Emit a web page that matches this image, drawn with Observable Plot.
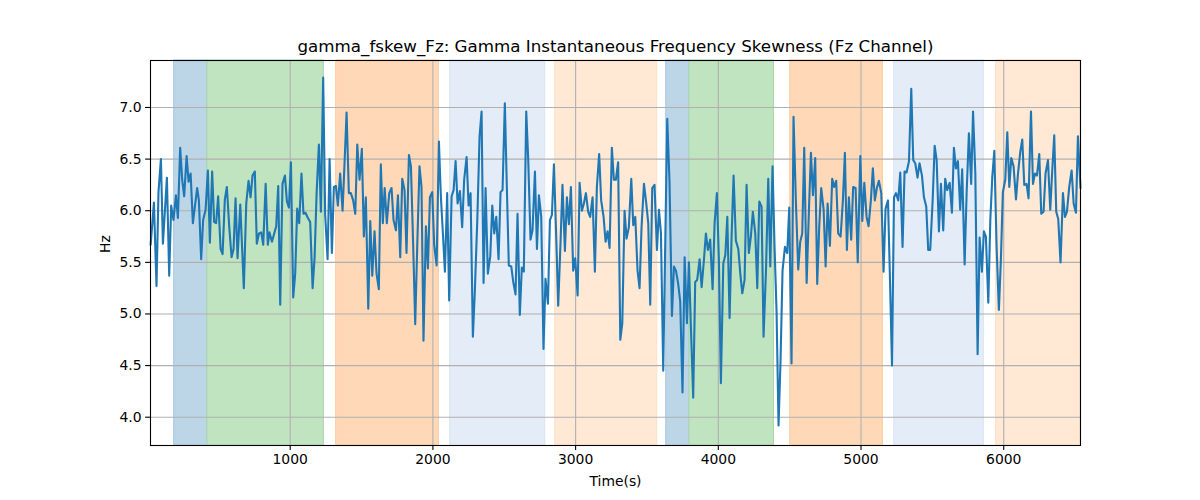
<!DOCTYPE html>
<html><head><meta charset="utf-8">
<script src="https://cdn.jsdelivr.net/npm/d3@7"></script>
<script src="https://cdn.jsdelivr.net/npm/@observablehq/plot@0.6"></script>
<style>body{margin:0;background:#fff;}</style>
</head><body><div id="chart"></div>
<script>
const chartTitle = "gamma_fskew_Fz: Gamma Instantaneous Frequency Skewness (Fz Channel)";
const xLabel = "Time(s)";
const yLabel = "Hz";

const times = [22,45,63,77,94,108,136,152,166,182,199,213,229,243,257,274,288,302,318,332,348,360,376,390,407,423,437,453,467,481,495,512,526,542,556,573,589,603,617,631,650,675,692,708,722,736,752,766,781,797,811,828,
843,855,872,888,902,916,930,946,963,977,991,1005,1021,1035,1049,1063,1079,1093,1107,1124,1140,1157,1171,1185,1201,1215,1231,1245,1262,1276,1292,1306,1320,1334,1350,1367,1381,1395,1411,1425,1441,1456,1470,1486,1502,1516,1530,1547,1561,1575,1591,1605,1621,1635,1649,1662,
1677,1694,1710,1724,1741,1755,1771,1785,1801,1815,1832,1846,1862,1876,1890,1906,1920,1934,1951,1965,1979,1995,2009,2026,2042,2056,2070,2084,2100,2114,2131,2145,2159,2173,2189,2205,2219,2236,2250,2264,2280,2294,2311,2327,2341,2355,2369,2385,2402,2416,2430,2444,2460,2474,2488,
2504,2518,2532,2549,2563,2579,2593,2609,2623,2637,2654,2668,2684,2698,2715,2729,2743,2759,2775,2789,2806,2820,2834,2848,2864,2878,2894,2908,2925,2939,2953,2967,2983,2997,3014,3028,3044,3058,3072,3088,3102,3119,3135,3149,3165,3179,3196,3210,3224,3238,3254,3268,3282,3298,3313,
3327,3343,3357,3373,3390,3404,3418,3434,3448,3462,3479,3495,3509,3523,3537,3553,3570,3584,3598,3614,3628,3642,3658,3675,3689,3703,3719,3733,3749,3764,3780,3794,3808,3824,3838,3852,3869,3883,3899,3913,3927,3943,3960,3974,3990,4004,4018,4035,4049,4063,4079,4093,4107,4123,4140,4154,
4168,4184,4198,4214,4228,4242,4259,4273,4287,4303,4317,4334,4350,4364,4380,4394,4408,4422,4436,4450,4467,4483,4497,4513,4527,4544,4560,4574,4588,4602,4619,4635,4649,4663,4679,4693,4707,4721,4738,4752,4766,4782,4798,4812,4826,4840,4857,4873,4887,4901,4915,4931,4945,4962,4977,
4995,5009,5023,5039,5053,5069,5083,5097,5111,5125,5142,5158,5172,5189,5203,5217,5231,5245,5261,5275,5291,5305,5319,5336,5352,5366,5380,5396,5410,5427,5441,5457,5471,5485,5502,5516,5530,5546,5560,5576,5590,5604,5621,5637,5651,5665,5679,5695,5709,5726,5740,5756,5772,5785,
5801,5817,5831,5847,5861,5875,5892,5906,5920,5934,5950,5966,5980,5994,6011,6025,6039,6053,6069,6086,6100,6116,6130,6144,6160,6174,6191,6205,6219,6233,6249,6263,6279,6293,6310,6326,6340,6354,6368,6382,6398,6415,6429,6443,6459,6476,6490,6506,6520,6538];

const values = [5.67,6.08,5.27,6.18,6.50,5.68,6.32,5.37,6.05,5.91,6.15,5.93,6.61,6.30,6.14,6.53,6.28,6.36,5.88,6.04,6.22,6.10,5.53,5.91,6.01,6.39,5.69,6.38,5.89,5.88,6.14,5.63,5.58,6.11,6.23,5.84,5.55,5.63,6.12,5.54,6.06,5.25,6.07,6.29,6.13,6.34,6.38,5.68,5.78,5.79,5.67,6.26,
5.67,5.79,5.70,5.78,5.85,6.24,5.09,6.26,6.34,6.09,6.03,6.47,5.16,5.39,6.02,5.88,6.36,5.97,5.98,5.93,5.89,5.25,5.55,6.17,6.64,5.99,7.29,5.96,5.53,6.50,5.59,6.23,6.24,6.05,6.36,6.00,6.47,6.95,6.17,6.17,6.10,5.97,6.64,6.30,6.60,5.75,6.13,5.05,5.90,5.37,5.80,5.39,5.24,6.45,5.88,6.22,
5.88,6.17,6.22,5.91,5.81,6.15,5.55,6.31,6.20,5.59,6.54,6.43,5.65,4.90,5.65,6.43,6.23,4.74,5.85,5.44,6.13,6.18,5.67,5.47,6.67,6.13,5.78,5.41,6.17,5.13,6.14,6.20,6.48,6.07,6.19,5.84,6.30,6.52,6.05,6.17,4.78,5.23,5.91,6.72,6.96,5.30,6.22,5.39,5.56,6.05,5.78,5.94,5.53,6.18,6.20,
7.04,6.23,5.47,5.46,5.31,5.19,5.97,4.99,5.45,5.41,6.96,6.49,5.72,5.81,6.38,5.63,6.15,5.94,4.66,5.34,5.10,5.91,5.96,6.45,5.75,5.08,5.68,6.25,5.61,6.13,5.87,6.23,5.42,5.54,5.18,6.27,6.00,6.07,6.17,5.99,5.94,6.13,5.41,6.23,6.55,6.10,5.94,5.70,5.80,5.64,6.61,6.30,6.30,6.47,4.75,
4.91,6.00,5.73,5.84,6.31,5.86,5.94,5.42,5.25,5.84,6.26,6.07,5.88,5.09,6.22,6.25,5.62,6.01,5.78,4.45,5.68,6.89,6.28,4.98,5.46,5.42,5.29,5.12,4.24,5.55,4.91,5.50,4.87,4.19,5.31,5.33,5.53,5.26,5.52,5.78,5.62,5.72,5.24,5.88,6.17,5.52,4.33,5.49,5.57,5.94,4.96,5.75,6.34,5.71,5.63,5.39,
5.20,5.33,6.25,5.59,5.75,5.99,5.78,5.25,6.09,6.04,4.78,5.42,6.31,5.46,6.43,5.65,5.03,3.92,4.55,5.42,5.65,5.59,6.03,4.52,6.91,6.07,5.43,5.70,5.78,6.61,5.30,6.01,6.56,6.15,6.51,5.29,5.84,6.22,6.01,5.46,6.07,5.66,6.31,6.23,6.29,5.78,5.75,6.10,6.56,5.62,6.13,5.72,6.23,6.22,5.50,
6.53,5.90,6.27,5.94,5.85,6.10,6.41,6.10,6.22,6.29,6.17,5.41,6.02,6.10,5.33,4.50,6.13,6.17,6.10,6.37,5.65,6.38,6.37,6.48,7.18,6.49,6.46,6.32,6.46,6.34,6.13,6.04,5.62,5.62,6.10,6.63,6.49,5.80,6.26,5.81,6.31,6.20,6.27,5.98,6.61,6.41,6.48,6.01,6.40,5.48,6.17,6.75,6.26,6.96,
6.36,4.61,5.74,5.41,5.80,5.75,5.11,5.91,6.33,6.58,5.65,5.04,5.52,6.18,6.30,6.76,6.23,6.51,6.43,6.11,6.36,6.57,6.69,6.25,6.26,6.12,6.96,6.26,6.36,6.34,6.55,5.97,5.99,6.36,6.49,6.01,6.39,6.73,5.99,5.92,5.50,6.17,5.94,5.99,6.23,6.39,6.07,5.98,6.72,6.22];

const spanStart = [187, 420, 1322, 2121, 2857, 3635, 3798, 4504, 5233, 5947];
const spanEnd   = [420, 1236, 2042, 2787, 3572, 3798, 4390, 5153, 5861, 6538];
const spanKind  = ["A", "B", "C", "D", "E", "A", "B", "C", "D", "E"];

const xTicks = [1000, 2000, 3000, 4000, 5000, 6000];
const yTicks = [4.0, 4.5, 5.0, 5.5, 6.0, 6.5, 7.0];
const xDomain = [21, 6538];
const yDomain = [3.726, 7.455];

const kindFill = {A: "#bcd6e8", B: "#c0e3c0", C: "#ffd9b7", D: "#e4ecf7", E: "#ffe8d4"};
const kindEdge = {A: "#a6c8e0", B: "#a9d8a9", C: "#ffcb9c", D: "#dae4f4", E: "#ffe0c4"};

const series = times.map((t, i) => ({t, v: values[i]}));
const spans = spanStart.map((s, i) => ({x1: s, x2: spanEnd[i], kind: spanKind[i]}));

const chart = Plot.plot({
  width: 1200, height: 500,
  marginLeft: 150, marginRight: 120, marginTop: 60, marginBottom: 55,
  style: {fontFamily: "'DejaVu Sans', sans-serif", fontSize: "13.9px", background: "white", color: "black", overflow: "visible"},
  x: {domain: xDomain},
  y: {domain: yDomain},
  marks: [
    Plot.rect(spans, {x1: "x1", x2: "x2", fill: d => kindFill[d.kind], stroke: d => kindEdge[d.kind], strokeWidth: 1}),
    Plot.gridX(xTicks, {stroke: "#b0b0b0", strokeOpacity: 1, strokeWidth: 1.1}),
    Plot.gridY(yTicks, {stroke: "#b0b0b0", strokeOpacity: 1, strokeWidth: 1.1}),
    Plot.lineY(series, {x: "t", y: "v", stroke: "#1f77b4", strokeWidth: 2.1, strokeLinejoin: "round"}),
    Plot.frame({stroke: "black", strokeWidth: 1.1}),
    Plot.axisX(xTicks, {tickSize: 4.9, tickPadding: 4, label: null, fontSize: 13.9, strokeWidth: 1.1, tickFormat: d => String(d)}),
    Plot.axisY(yTicks, {tickSize: 4.9, tickPadding: 4, label: null, fontSize: 13.9, strokeWidth: 1.1, tickFormat: d3.format(".1f")}),
    Plot.text([chartTitle], {text: d => d, frameAnchor: "top", lineAnchor: "middle", dy: -14, fontSize: 16.7, fill: "black"}),
    Plot.text([xLabel], {text: d => d, frameAnchor: "bottom", lineAnchor: "middle", dy: 36, fontSize: 13.9, fill: "black"}),
    Plot.text([yLabel], {text: d => d, frameAnchor: "left", lineAnchor: "middle", dx: -45, rotate: -90, fontSize: 13.9, fill: "black"})
  ]
});
document.getElementById("chart").appendChild(chart);
</script>
</body></html>
